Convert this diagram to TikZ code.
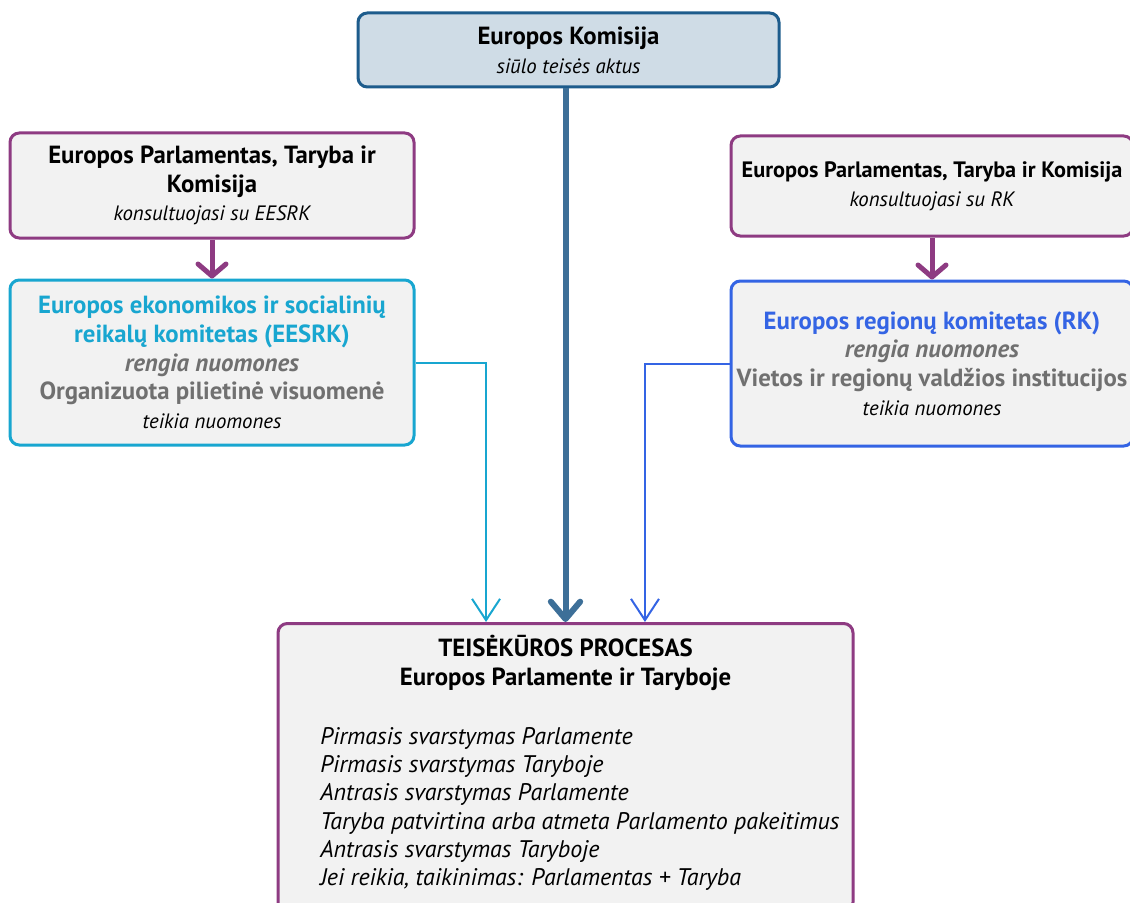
\documentclass[tikz,border=0pt]{standalone}
\usepackage{fontspec}
\setmainfont{PT Sans}
\usetikzlibrary{arrows.meta}
\definecolor{ecborder}{HTML}{1D5C8C}
\definecolor{ecfill}{HTML}{CFDCE6}
\definecolor{ecarrow}{HTML}{3D6F98}
\definecolor{plum}{HTML}{8E3B82}
\definecolor{eesc}{HTML}{18A6D0}
\definecolor{corblue}{HTML}{3464E4}
\definecolor{boxfill}{HTML}{F2F2F2}
\definecolor{opgray}{HTML}{707070}
\begin{document}
\begin{tikzpicture}[x=0.75pt,y=-0.75pt]
  \tikzstyle{every node}=[align=center, font=\fontsize{18.6}{21.5}\selectfont, text=black]
  \tikzstyle{box}=[rectangle, rounded corners=7pt, fill=boxfill, line width=2.25pt, inner sep=0pt]
  \tikzstyle{consult}=[plum, line width=3.75pt, -{Straight Barb[length=9pt, width=21pt, round]}]
  \tikzstyle{opinion}=[line width=1.5pt, -{Straight Barb[length=16pt, width=21pt]}]
  \newcommand{\sm}{\fontsize{15.6}{19}\selectfont\itshape}

  \clip (0,0) rectangle (1130,902);

  \node[box, draw=ecborder, fill=ecfill, minimum width=315.75pt, minimum height=55.5pt] (ek) at (568.5,50)
    {\textbf{Europos Komisija}\\{\sm siūlo teisės aktus}};

  \node[box, draw=plum, minimum width=303pt, minimum height=78.75pt] (ptk) at (212,185.5)
    {\textbf{Europos Parlamentas, Taryba ir}\\\textbf{Komisija}\\{\sm konsultuojasi su EESRK}};
  \node[box, draw=eesc, minimum width=303pt, minimum height=123.75pt] (eesrk) at (212,362.5)
    {\textcolor{eesc}{\textbf{Europos ekonomikos ir socialinių}}\\
     \textcolor{eesc}{\textbf{reikalų komitetas (EESRK)}}\\
     \textcolor{opgray}{\textbf{\textit{rengia nuomones}}}\\
     \textcolor{opgray}{\textbf{Organizuota pilietinė visuomenė}}\\
     {\sm teikia nuomones}};

  \node[box, draw=plum, minimum width=301.5pt, minimum height=75pt] (ptkr) at (932,186)
    {\fontsize{16.7}{18}\selectfont\textbf{Europos Parlamentas, Taryba ir Komisija}\\{\sm konsultuojasi su RK}};
  \node[box, draw=corblue, minimum width=301.5pt, minimum height=123.75pt] (rk) at (932,363.5)
    {\textcolor{corblue}{\textbf{Europos regionų komitetas (RK)}}\\
     \textcolor{opgray}{\textbf{\textit{rengia nuomones}}}\\
     \textcolor{opgray}{\textbf{Vietos ir regionų valdžios institucijos}}\\
     {\sm teikia nuomones}};

  \node[box, draw=plum, anchor=north, minimum width=431.25pt, minimum height=216pt] (process) at (565.5,622) {};
  \node (title) at (565.5,663)
    {\textbf{TEISĖKŪROS PROCESAS}\\\textbf{Europos Parlamente ir Taryboje}};
  \node[align=left, anchor=north west, inner sep=0pt, font=\fontsize{18}{21.2}\selectfont\itshape] (steps) at (320,727)
    {Pirmasis svarstymas Parlamente\\
     Pirmasis svarstymas Taryboje\\
     Antrasis svarstymas Parlamente\\
     Taryba patvirtina arba atmeta Parlamento pakeitimus\\
     Antrasis svarstymas Taryboje\\
     Jei reikia, taikinimas: Parlamentas + Taryba};

  \draw[consult] (ptk) -- (eesrk);
  \draw[consult] (ptkr) -- (rk);
  \draw[ecarrow, line width=4.5pt, -{Straight Barb[length=13pt, width=22pt, round]}] (ek.south -| process.north) -- (process.north);
  \draw[opinion, eesc] (eesrk.east) -| ([xshift=-59.6pt]process.north);
  \draw[opinion, corblue] (rk.west) -| ([xshift=59.6pt]process.north);
\end{tikzpicture}
\end{document}
